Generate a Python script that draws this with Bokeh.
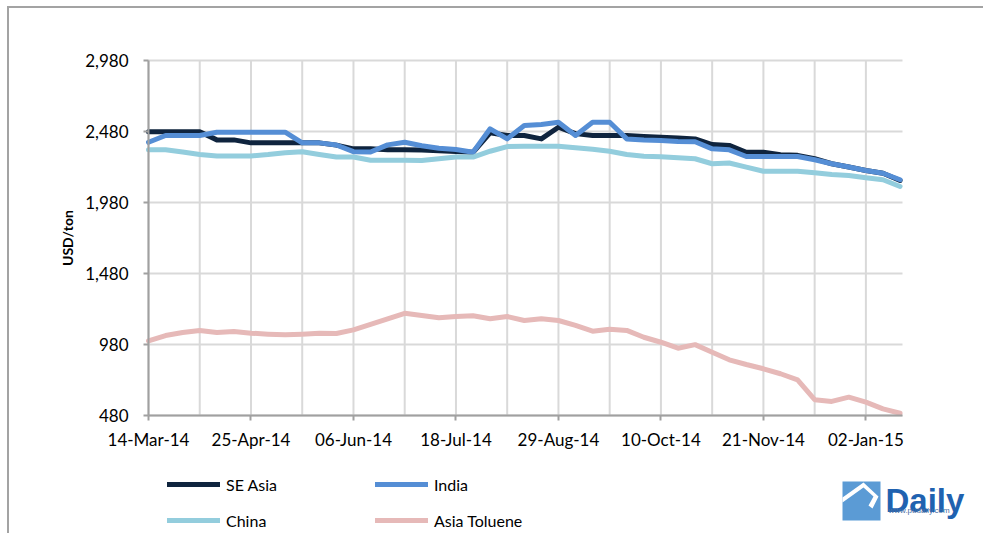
import datetime as dt
from bokeh.plotting import figure
from bokeh.models import (Range1d, FixedTicker, NumeralTickFormatter, DatetimeTickFormatter,
                          Legend, LegendItem, Label, BoxAnnotation, PolyAnnotation)
from bokeh.embed import file_html
from bokeh.resources import INLINE

dates = ["2014-03-14", "2014-03-21", "2014-03-28", "2014-04-04", "2014-04-11", "2014-04-18",
         "2014-04-25", "2014-05-02", "2014-05-09", "2014-05-16", "2014-05-23", "2014-05-30",
         "2014-06-06", "2014-06-13", "2014-06-20", "2014-06-27", "2014-07-04", "2014-07-11",
         "2014-07-18", "2014-07-25", "2014-08-01", "2014-08-08", "2014-08-15", "2014-08-22",
         "2014-08-29", "2014-09-05", "2014-09-12", "2014-09-19", "2014-09-26", "2014-10-03",
         "2014-10-10", "2014-10-17", "2014-10-24", "2014-10-31", "2014-11-07", "2014-11-14",
         "2014-11-21", "2014-11-28", "2014-12-05", "2014-12-12", "2014-12-19", "2014-12-26",
         "2015-01-02", "2015-01-09", "2015-01-16"]

se_asia = [2478, 2478, 2478, 2478, 2421, 2421, 2400, 2400, 2400, 2400, 2400, 2384,
           2358, 2358, 2352, 2351, 2350, 2345, 2340, 2334, 2471, 2452, 2452, 2428,
           2510, 2465, 2452, 2452, 2452, 2445, 2440, 2435, 2428, 2388, 2382, 2334,
           2334, 2316, 2312, 2288, 2253, 2230, 2205, 2186, 2135]
india = [2404, 2452, 2452, 2452, 2475, 2475, 2475, 2475, 2475, 2400, 2400, 2385,
         2338, 2336, 2386, 2404, 2380, 2362, 2353, 2334, 2499, 2428, 2522, 2530,
         2545, 2452, 2545, 2545, 2428, 2420, 2416, 2410, 2408, 2358, 2351, 2304,
         2304, 2304, 2304, 2281, 2253, 2230, 2205, 2186, 2140]
china = [2351, 2351, 2336, 2318, 2308, 2308, 2308, 2318, 2331, 2337, 2318, 2300,
         2300, 2277, 2277, 2277, 2276, 2288, 2300, 2300, 2341, 2374, 2376, 2376,
         2376, 2365, 2355, 2341, 2318, 2306, 2302, 2295, 2288, 2253, 2258, 2229,
         2200, 2200, 2200, 2190, 2177, 2170, 2154, 2140, 2093]
toluene = [1005, 1043, 1064, 1079, 1064, 1072, 1060, 1053, 1048, 1053, 1060, 1057,
           1083, 1121, 1161, 1200, 1184, 1168, 1177, 1182, 1161, 1177, 1149, 1161,
           1149, 1114, 1074, 1088, 1079, 1031, 996, 954, 979, 926, 872, 839,
           809, 774, 731, 591, 579, 609, 574, 527, 496]

series_names = ["SE Asia", "India", "China", "Asia Toluene"]
series_colors = ["#0f243e", "#558ed5", "#93cddd", "#e6b9b8"]
x_tick_dates = ["2014-03-14", "2014-04-25", "2014-06-06", "2014-07-18", "2014-08-29",
                "2014-10-10", "2014-11-21", "2015-01-02"]
y_ticks = [480, 980, 1480, 1980, 2480, 2980]
y_label = "USD/ton"

FONT = "Lato"
GRID = "#d9d9d9"
AXIS = "#a0a0a0"

# layout geometry (canvas pixels); the frame covers the whole canvas
CANVAS_W, CANVAS_H = 976, 527
AREA_LEFT, AREA_TOP = 139, 52          # where the chart area starts
AREA_W, AREA_H = 754, 355              # chart area size

x = [dt.datetime.strptime(d, "%Y-%m-%d") for d in dates]
x_start = x[0]
x_vis_end = x[-1] + dt.timedelta(days=1)
span = x_vis_end - x_start
x_rng_lo = x_start - span * (AREA_LEFT / AREA_W)
x_rng_hi = x_start + span * ((CANVAS_W - AREA_LEFT) / AREA_W)
y_lo, y_hi = y_ticks[0], y_ticks[-1]
yspan = y_hi - y_lo
y_rng_hi = y_hi + yspan * (AREA_TOP / AREA_H)
y_rng_lo = y_lo - yspan * ((CANVAS_H - AREA_TOP - AREA_H) / AREA_H)


def ms(d):
    return (d - dt.datetime(1970, 1, 1)).total_seconds() * 1000.0


p = figure(width=CANVAS_W, height=CANVAS_H, x_axis_type="datetime", output_backend="svg",
           toolbar_location=None,
           x_range=Range1d(x_rng_lo, x_rng_hi), y_range=Range1d(y_rng_lo, y_rng_hi),
           min_border_left=0, min_border_right=0, min_border_top=0, min_border_bottom=0)
p.styles = {"margin-left": "7px", "margin-top": "6px",
            "border-top": "2px solid #a3a3a3", "border-left": "2px solid #a3a3a3"}
p.outline_line_color = None
p.grid.visible = False

# grid lines, bounded to the chart area
gx = x[::3]
p.segment(x0=gx, y0=[y_lo] * len(gx), x1=gx, y1=[y_hi] * len(gx),
          line_color=GRID, line_width=2, level="underlay")
p.segment(x0=[x_start] * len(y_ticks), y0=y_ticks, x1=[x_vis_end] * len(y_ticks), y1=y_ticks,
          line_color=GRID, line_width=2, level="underlay")

renderers = []
for vals, col in zip([se_asia, india, china, toluene], series_colors):
    r = p.line(x, vals, line_color=col, line_width=5, line_join="round", line_cap="round")
    renderers.append(r)

# axes (drawn at fixed positions inside the frame)
xa = p.xaxis[0]
xa.fixed_location = y_lo
xa.bounds = (x_start, x_vis_end)
xa.ticker = FixedTicker(ticks=[ms(dt.datetime.strptime(d, "%Y-%m-%d")) for d in x_tick_dates])
fmt = "%d-%b-%y"
xa.formatter = DatetimeTickFormatter(milliseconds=fmt, seconds=fmt, minsec=fmt, minutes=fmt,
                                     hourmin=fmt, hours=fmt, days=fmt, months=fmt, years=fmt)
ya = p.yaxis[0]
ya.fixed_location = ms(x_start)
ya.bounds = (y_lo, y_hi)
ya.ticker = FixedTicker(ticks=y_ticks)
ya.formatter = NumeralTickFormatter(format="0,0")
ya.axis_label = y_label
ya.axis_label_text_font = FONT
ya.axis_label_text_font_style = "bold"
ya.axis_label_text_font_size = "14px"
ya.axis_label_text_color = "black"
ya.axis_label_standoff = 6

for ax in (xa, ya):
    ax.axis_line_color = AXIS
    ax.axis_line_width = 2
    ax.major_tick_line_color = AXIS
    ax.major_tick_line_width = 2
    ax.major_tick_out = 5
    ax.major_tick_in = 0
    ax.minor_tick_line_color = None
    ax.major_label_text_font = FONT
    ax.major_label_text_font_size = "17px"
    ax.major_label_text_color = "black"
xa.major_label_standoff = 8
ya.major_label_standoff = 15

legend = Legend(items=[LegendItem(label=n, renderers=[r]) for n, r in zip(series_names, renderers)],
                location=(158, 0), orientation="horizontal", ncols=2,
                glyph_width=53, glyph_height=30, label_height=30, label_width=143,
                label_standoff=6, spacing=6, padding=0, margin=0,
                border_line_alpha=0, background_fill_alpha=0,
                label_text_font=FONT, label_text_font_size="16px", label_text_color="black")
p.add_layout(legend, "center")

# logo (screen units relative to frame bottom-left)
p.add_layout(BoxAnnotation(left=833, right=871, top=54, bottom=15,
                           left_units="screen", right_units="screen",
                           top_units="screen", bottom_units="screen",
                           fill_color="#5b9bd5", fill_alpha=1, line_color=None, level="annotation"))
p.add_layout(PolyAnnotation(xs=[833, 854, 869, 863, 859, 864, 854, 833],
                            ys=[38, 53, 39, 27, 30, 39, 48, 33],
                            xs_units="screen", ys_units="screen",
                            fill_color="white", fill_alpha=1, line_color=None, level="annotation"))
p.add_layout(Label(x=876, y=35, x_units="screen", y_units="screen", text="Daily",
                   text_font="Liberation Sans", text_font_style="bold", text_font_size="33px",
                   text_color="#1f62b0", text_baseline="alphabetic"))
p.add_layout(Label(x=879, y=25, x_units="screen", y_units="screen", text="www.pudaily.com",
                   text_font="Liberation Sans", text_font_size="8px",
                   text_color="#4a6fa5", text_baseline="alphabetic"))

open("out.html", "w").write(file_html(p, INLINE))
